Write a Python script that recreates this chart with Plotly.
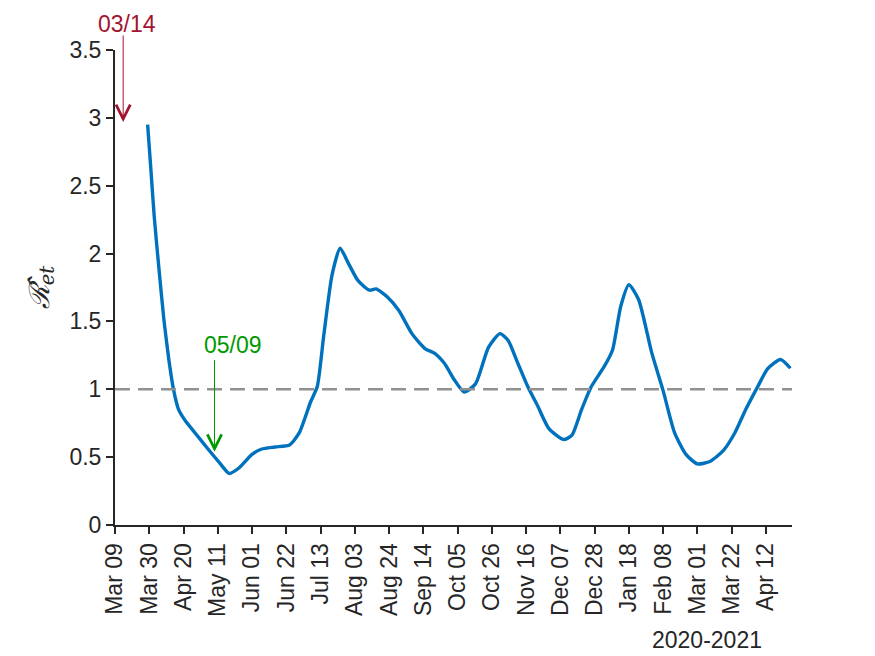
import pandas as pd
import plotly.graph_objects as go

# estimated effective reproduction number
dates = [
    "2020-03-29", "2020-03-31", "2020-04-02", "2020-04-05", "2020-04-08",
    "2020-04-11", "2020-04-14", "2020-04-17", "2020-04-21", "2020-04-27",
    "2020-05-05", "2020-05-12", "2020-05-18", "2020-05-24", "2020-06-01",
    "2020-06-07", "2020-06-15", "2020-06-24", "2020-06-30", "2020-07-07",
    "2020-07-11", "2020-07-15", "2020-07-20", "2020-07-25", "2020-07-30",
    "2020-08-05", "2020-08-12", "2020-08-16", "2020-08-23", "2020-08-30",
    "2020-09-07", "2020-09-15", "2020-09-21", "2020-09-27", "2020-10-03",
    "2020-10-09", "2020-10-16", "2020-10-24", "2020-10-31", "2020-11-05",
    "2020-11-11", "2020-11-17", "2020-11-23", "2020-11-30", "2020-12-09",
    "2020-12-14", "2020-12-20", "2020-12-26", "2021-01-03", "2021-01-08",
    "2021-01-13", "2021-01-18", "2021-01-24", "2021-02-01", "2021-02-08",
    "2021-02-15", "2021-02-22", "2021-03-01", "2021-03-09", "2021-03-17",
    "2021-03-24", "2021-03-31", "2021-04-07", "2021-04-13", "2021-04-21",
    "2021-04-27",
]
r_et = [
    2.95, 2.62, 2.28, 1.88, 1.51,
    1.22, 0.99, 0.85, 0.77, 0.68,
    0.56, 0.46, 0.38, 0.42, 0.52,
    0.56, 0.575, 0.59, 0.68, 0.91,
    1.02, 1.40, 1.84, 2.04, 1.93,
    1.80, 1.73, 1.74, 1.68, 1.58,
    1.41, 1.30, 1.265, 1.19, 1.07,
    0.98, 1.04, 1.31, 1.41, 1.36,
    1.19, 1.02, 0.88, 0.71, 0.63,
    0.66, 0.85, 1.02, 1.17, 1.29,
    1.61, 1.77, 1.66, 1.27, 0.99,
    0.68, 0.52, 0.45, 0.47, 0.55,
    0.68, 0.86, 1.02, 1.15, 1.22,
    1.155,
]

tick_dates = pd.date_range("2020-03-09", "2021-04-12", freq="21D")
y_ticks = [0, 0.5, 1, 1.5, 2, 2.5, 3, 3.5]

# marked events: (date, value at arrow tip, label, colour)
events = [
    ("2020-03-14", 2.97, "03/14", "#A2142F"),
    ("2020-05-09", 0.54, "05/09", "#009900"),
]
# per-event placement: arrow length, label x/y offsets (px)
event_arrow = [-88, -93]
event_dx = [4, 18]
event_dy = [98, 107]

x_start = pd.Timestamp("2020-03-09")
x_end = pd.Timestamp("2021-04-28")

fig = go.Figure()
fig.add_trace(
    go.Scatter(
        x=pd.to_datetime(dates),
        y=r_et,
        mode="lines",
        line=dict(color="#0072BD", width=3.4, shape="spline", smoothing=0.6),
        showlegend=False,
    )
)

fig.add_hline(y=1, line_dash="15px,8px", line_color="#919191", line_width=2.5)

for (day, tip, label, color), ay, dx, dy in zip(events, event_arrow, event_dx, event_dy):
    fig.add_annotation(
        x=day, y=tip, text="", showarrow=True,
        ax=0, ay=ay, arrowhead=5, arrowsize=2.8, arrowwidth=1,
        arrowcolor=color,
    )
    fig.add_annotation(
        x=day, y=tip, text=label, showarrow=False,
        xshift=dx, yshift=dy,
        font=dict(size=23, color=color),
    )

fig.add_annotation(
    xref="paper", yref="paper", x=0.8745, y=-0.242,
    xanchor="center", yanchor="middle",
    text="2020-2021", showarrow=False,
    font=dict(size=23, color="#262626"),
)

axis_style = dict(
    showline=True, linecolor="#262626", linewidth=2,
    ticks="outside", ticklen=7, tickwidth=2, tickcolor="#262626",
    showgrid=False, zeroline=False,
    tickfont=dict(size=23, color="#262626"),
)

fig.update_xaxes(
    range=[x_start, x_end],
    tickmode="array",
    tickvals=tick_dates,
    ticktext=[d.strftime("%b %d") for d in tick_dates],
    tickangle=-90,
    **axis_style,
)
fig.update_yaxes(
    range=[0, 3.5],
    tickmode="array",
    tickvals=y_ticks,
    ticktext=[f"{v:g}" for v in y_ticks],
    title=dict(
        text="<i>ℛ̂</i><sub><i>et</i></sub>",
        font=dict(size=28, color="#262626", family="DejaVu Serif"),
        standoff=12,
    ),
    **axis_style,
)

# page body has an 8px margin, so the plot area is placed 8px up/left
fig.update_layout(
    width=875,
    height=656,
    margin=dict(l=107, r=91, t=42, b=139, autoexpand=False),
    plot_bgcolor="white",
    paper_bgcolor="white",
    font=dict(family="Liberation Sans, Arial", color="#262626"),
)

fig.write_html("out.html")
